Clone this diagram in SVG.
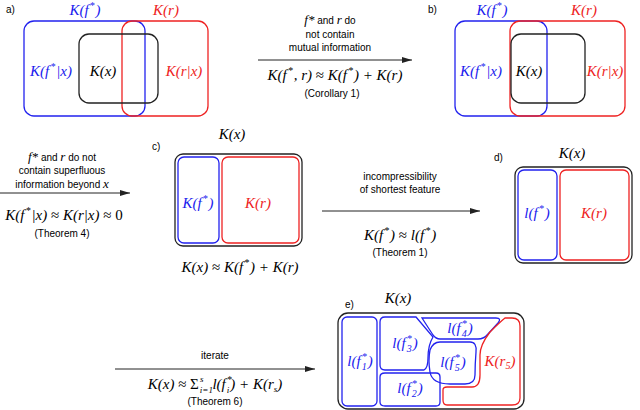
<svg xmlns="http://www.w3.org/2000/svg" width="640" height="410" viewBox="0 0 640 410">
<style>
.m{font-family:"Liberation Serif",serif;font-style:italic;font-size:15px;text-anchor:middle}
.s{font-family:"Liberation Sans",Arial,sans-serif;font-size:10px;text-anchor:middle}
.l{font-family:"Liberation Sans",Arial,sans-serif;font-size:10px}
.b{fill:#1a1aee}.r{fill:#ee2222}
.bs{fill:none;stroke:#2222ee;stroke-width:1.3}
.rs{fill:none;stroke:#ee2222;stroke-width:1.3}
.ks{fill:none;stroke:#222;stroke-width:1.3}
.ar{stroke:#222;stroke-width:1}
</style>
<defs><marker id="ah" viewBox="0 0 10 6" refX="10" refY="3" markerWidth="10" markerHeight="6" orient="auto" markerUnits="userSpaceOnUse"><path d="M0,0L10,3L0,6z" fill="#222"/></marker></defs>

<g id="panel-a">
<text class="l" x="6" y="13">a)</text>
<rect class="bs" x="24" y="21" width="121" height="95" rx="10"/>
<rect class="rs" x="122" y="21" width="86" height="95" rx="10"/>
<rect class="ks" x="79" y="34" width="79" height="69" rx="10"/>
<text class="m b" x="85" y="15">K(f<tspan dx="1" dy="-6" font-size="10">*</tspan><tspan dx="1" dy="6">)</tspan></text>
<text class="m r" x="166" y="15">K(r)</text>
<text class="m b" x="51" y="76">K(f<tspan dx="1" dy="-6" font-size="10">*</tspan><tspan dx="1" dy="6">|x)</tspan></text>
<text class="m" x="103" y="76">K(x)</text>
<text class="m r" x="184" y="76">K(r|x)</text>
</g>

<g id="panel-b">
<text class="l" x="428" y="13">b)</text>
<rect class="bs" x="455" y="21" width="92" height="95" rx="10"/>
<rect class="rs" x="510" y="21" width="115" height="95" rx="10"/>
<rect class="ks" x="511" y="34" width="74" height="69" rx="10"/>
<text class="m b" x="492" y="15">K(f<tspan dx="1" dy="-6" font-size="10">*</tspan><tspan dx="1" dy="6">)</tspan></text>
<text class="m r" x="584" y="15">K(r)</text>
<text class="m b" x="481" y="76">K(f<tspan dx="1" dy="-6" font-size="10">*</tspan><tspan dx="1" dy="6">|x)</tspan></text>
<text class="m" x="529" y="76">K(x)</text>
<text class="m r" x="605" y="76">K(r|x)</text>
</g>

<g id="panel-c">
<text class="l" x="152" y="150">c)</text>
<text class="m" x="232" y="139">K(x)</text>
<rect class="ks" x="175" y="154" width="127" height="92" rx="8"/>
<rect class="bs" x="178" y="157" width="41" height="86" rx="6"/>
<rect class="rs" x="222" y="157" width="77" height="86" rx="6"/>
<text class="m b" x="198" y="208">K(f<tspan dx="1" dy="-6" font-size="10">*</tspan><tspan dx="1" dy="6">)</tspan></text>
<text class="m r" x="258" y="208">K(r)</text>
<text class="m" x="240" y="272">K(x) <tspan font-style="normal">≈</tspan> K(f<tspan dx="1" dy="-6" font-size="10">*</tspan><tspan dx="1" dy="6">) + K(r)</tspan></text>
</g>

<g id="panel-d">
<text class="l" x="494" y="161">d)</text>
<text class="m" x="572" y="158">K(x)</text>
<rect class="ks" x="515" y="167" width="117" height="96" rx="8"/>
<rect class="bs" x="518" y="170" width="39" height="90" rx="6"/>
<rect class="rs" x="560" y="170" width="69" height="90" rx="6"/>
<text class="m b" x="537" y="218">l(f<tspan dx="1" dy="-6" font-size="10">*</tspan><tspan dx="1" dy="6">)</tspan></text>
<text class="m r" x="594" y="218">K(r)</text>
</g>

<g id="panel-e">
<text class="l" x="345" y="308">e)</text>
<text class="m" x="398" y="303">K(x)</text>
<rect class="ks" x="338" y="313" width="186" height="96" rx="10"/>
<rect class="bs" x="342" y="317" width="35" height="89" rx="5"/>
<path class="bs" d="M385,317H416L433,337Q428,345 428,358Q428,368 424,370H385Q380,370 380,365V322Q380,317 385,317Z"/>
<path class="bs" d="M385,373H436Q440,373 440,377V402Q440,406 436,406H385Q380,406 380,402V377Q380,373 385,373Z"/>
<path class="bs" d="M422,318H496Q502,318 498,323L488,334Q484,339 478,339H440Q436,339 433,335Z"/>
<path class="bs" d="M440,342H470Q477,342 476,352Q475,365 475,375Q475,384 465,384H450Q432,384 430,372Q428,360 430,350Q433,342 440,342Z"/>
<path class="rs" d="M505,318H512Q520,318 520,326V398Q520,405 512,405H447Q443,405 443,400V390Q443,387 447,387H472Q480,387 480,375V355Q480,345 490,332Q500,322 505,318Z"/>
<text class="m b" x="360" y="366">l(f<tspan dx="1" dy="-6" font-size="10">*</tspan><tspan dx="-5" dy="10" font-size="10">1</tspan><tspan dx="1" dy="-4">)</tspan></text>
<text class="m b" x="405" y="348">l(f<tspan dx="1" dy="-6" font-size="10">*</tspan><tspan dx="-5" dy="10" font-size="10">3</tspan><tspan dx="1" dy="-4">)</tspan></text>
<text class="m b" x="410" y="393">l(f<tspan dx="1" dy="-6" font-size="10">*</tspan><tspan dx="-5" dy="10" font-size="10">2</tspan><tspan dx="1" dy="-4">)</tspan></text>
<text class="m b" x="460" y="333">l(f<tspan dx="1" dy="-6" font-size="10">*</tspan><tspan dx="-5" dy="10" font-size="10">4</tspan><tspan dx="1" dy="-4">)</tspan></text>
<text class="m b" x="453" y="367">l(f<tspan dx="1" dy="-6" font-size="10">*</tspan><tspan dx="-5" dy="10" font-size="10">5</tspan><tspan dx="1" dy="-4">)</tspan></text>
<text class="m r" x="500" y="366">K(r<tspan dy="3" font-size="10">5</tspan><tspan dy="-3">)</tspan></text>
</g>

<g id="connectors">
<line class="ar" x1="258" y1="60" x2="412" y2="60" marker-end="url(#ah)"/>
<line class="ar" x1="0" y1="193" x2="130" y2="193" marker-end="url(#ah)"/>
<line class="ar" x1="322" y1="211" x2="480" y2="211" marker-end="url(#ah)"/>
<line class="ar" x1="115" y1="369" x2="315" y2="369" marker-end="url(#ah)"/>
</g>

<g id="labels">
<text class="s" x="330" y="24"><tspan font-family="Liberation Serif" font-style="italic" font-size="13">f*</tspan> and <tspan font-family="Liberation Serif" font-style="italic" font-size="13">r</tspan> do</text>
<text class="s" x="330" y="38">not contain</text>
<text class="s" x="330" y="51">mutual information</text>
<text class="m" x="335" y="80">K(f<tspan dx="1" dy="-6" font-size="10">*</tspan><tspan dx="1" dy="6">, r) </tspan><tspan font-style="normal">≈</tspan> K(f<tspan dx="1" dy="-6" font-size="10">*</tspan><tspan dx="1" dy="6">) + K(r)</tspan></text>
<text class="s" x="332" y="97">(Corollary 1)</text>

<text class="s" x="62" y="161"><tspan font-family="Liberation Serif" font-style="italic" font-size="13">f*</tspan> and <tspan font-family="Liberation Serif" font-style="italic" font-size="13">r</tspan> do not</text>
<text class="s" x="62" y="174">contain superfluous</text>
<text class="s" x="62" y="188">information beyond <tspan font-family="Liberation Serif" font-style="italic" font-size="13">x</tspan></text>
<text class="m" x="64" y="220">K(f<tspan dx="1" dy="-6" font-size="10">*</tspan><tspan dx="1" dy="6">|x) </tspan><tspan font-style="normal">≈</tspan> K(r|x) <tspan font-style="normal">≈ 0</tspan></text>
<text class="s" x="62" y="237">(Theorem 4)</text>

<text class="s" x="400" y="180">incompressibility</text>
<text class="s" x="400" y="193">of shortest feature</text>
<text class="m" x="400" y="240">K(f<tspan dx="1" dy="-6" font-size="10">*</tspan><tspan dx="1" dy="6">) </tspan><tspan font-style="normal">≈</tspan> l(f<tspan dx="1" dy="-6" font-size="10">*</tspan><tspan dx="1" dy="6">)</tspan></text>
<text class="s" x="400" y="256">(Theorem 1)</text>

<text class="s" x="215" y="359">iterate</text>
<text class="m" x="215" y="389">K(x) <tspan font-style="normal">≈ Σ</tspan><tspan font-size="9" dx="1" dy="4">i=1</tspan><tspan font-size="9" dx="-13" dy="-11">s</tspan><tspan dx="9" dy="7">l(f</tspan><tspan dx="1" dy="-6" font-size="10">*</tspan><tspan font-size="9" dx="-5" dy="10">i</tspan><tspan dx="1" dy="-4">) + K(r</tspan><tspan font-size="9" dy="3">s</tspan><tspan dy="-3">)</tspan></text>
<text class="s" x="215" y="405">(Theorem 6)</text>
</g>
</svg>
